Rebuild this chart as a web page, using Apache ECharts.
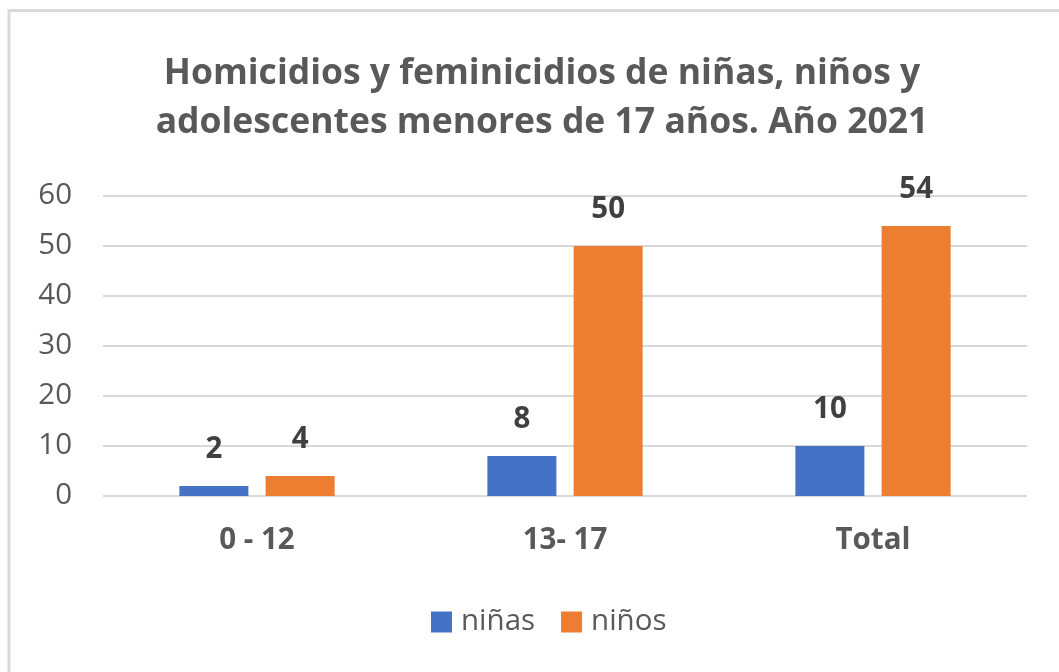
<!DOCTYPE html>
<html>
<head>
<meta charset="utf-8">
<script src="https://cdn.jsdelivr.net/npm/echarts@6/dist/echarts.min.js"></script>
<style>
html,body{margin:0;padding:0;background:#fff;}
#c{width:1059px;height:672px;}
</style>
</head>
<body>
<div id="c"></div>
<script>
const titleText = "Homicidios y feminicidios de niñas, niños y\nadolescentes menores de 17 años. Año 2021";
const categories = ["0 - 12", "13- 17", "Total"];
const seriesNames = ["niñas", "niños"];
const ninas = [2, 8, 10];
const ninos = [4, 50, 54];
const yTicks = { min: 0, max: 60, interval: 10 };

const FONT = "'Open Sans', 'Noto Sans', sans-serif";
const chart = echarts.init(document.getElementById('c'), null, { renderer: 'canvas' });
chart.setOption({
  animation: false,
  backgroundColor: '#ffffff',
  graphic: [{
    type: 'rect', silent: true, z: -1,
    shape: { x: 9, y: 10.5, width: 1200, height: 800 },
    style: { fill: 'none', stroke: '#d9d9d9', lineWidth: 3 }
  }],
  title: {
    text: titleText,
    left: 537, top: 44,
    textAlign: 'center',
    textStyle: { fontFamily: FONT, fontSize: 35.5, fontWeight: 'bold', color: '#595959', lineHeight: 49, align: 'center' }
  },
  legend: {
    data: seriesNames,
    left: 426, top: 602,
    itemWidth: 21, itemHeight: 21, itemGap: 26,
    icon: 'rect',
    textStyle: { fontFamily: FONT, fontSize: 29.5, color: '#595959', padding: [0, 0, 0, 4] }
  },
  grid: { left: 103, right: 32, top: 196, bottom: 176, containLabel: false },
  xAxis: {
    type: 'category', data: categories,
    axisLine: { show: false }, axisTick: { show: false },
    axisLabel: { fontFamily: FONT, fontSize: 29.5, fontWeight: 'bold', color: '#595959', margin: 30 }
  },
  yAxis: {
    type: 'value', min: yTicks.min, max: yTicks.max, interval: yTicks.interval,
    axisLine: { show: false }, axisTick: { show: false },
    splitLine: { lineStyle: { color: '#d9d9d9', width: 2 } },
    axisLabel: { fontFamily: FONT, fontSize: 29.5, color: '#595959', margin: 31 }
  },
  series: [
    {
      name: seriesNames[0], type: 'bar', data: ninas, barWidth: 69, barGap: '25%',
      itemStyle: { color: '#4472C4' },
      label: { show: true, position: 'top', distance: 21, fontFamily: FONT, fontSize: 29.5, fontWeight: 'bold', color: '#404040' }
    },
    {
      name: seriesNames[1], type: 'bar', data: ninos, barWidth: 69, barGap: '25%',
      itemStyle: { color: '#ED7D31' },
      label: { show: true, position: 'top', distance: 21, fontFamily: FONT, fontSize: 29.5, fontWeight: 'bold', color: '#404040' }
    }
  ]
});
</script>
</body>
</html>
